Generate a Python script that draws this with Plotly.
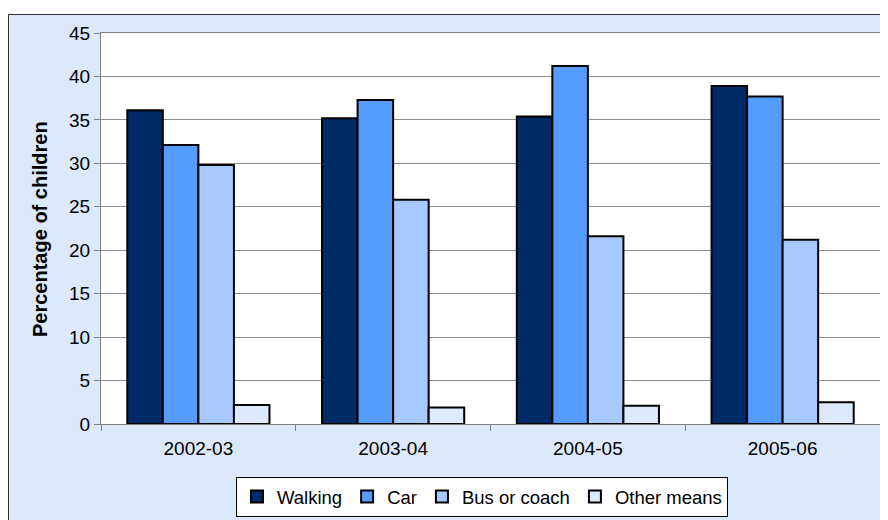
import plotly.graph_objects as go

years = ["2002-03", "2003-04", "2004-05", "2005-06"]
walking = [36.1, 35.2, 35.4, 38.9]
car = [32.1, 37.3, 41.2, 37.7]
bus = [29.8, 25.8, 21.6, 21.2]
other = [2.2, 1.9, 2.1, 2.5]

series = [
    ("Walking", walking, "#002b66"),
    ("Car", car, "#559cff"),
    ("Bus or coach", bus, "#a6caff"),
    ("Other means", other, "#dde9fc"),
]

BG = "#dce9fc"
fig = go.Figure()
for name, vals, col in series:
    fig.add_trace(go.Bar(x=years, y=vals, name=name,
                         marker=dict(color=col, line=dict(color="black", width=2))))

OFF = 8  # page body margin
W, H = 880, 512
L, R, T, B = 93, 8, 25, 96
pw, ph = W - L - R, H - T - B

def px(xpage):
    return (xpage - OFF - L) / pw

def py(ypage):
    return (H - B - (ypage - OFF)) / ph

fig.update_layout(
    width=W, height=H,
    margin=dict(l=L, r=R, t=T, b=B, autoexpand=False),
    paper_bgcolor=BG, plot_bgcolor="white",
    barmode="group", bargap=0.27, bargroupgap=0,
    font=dict(family="Liberation Sans, Arial", size=19, color="black"),
    showlegend=True,
    legend=dict(orientation="h", x=px(482), y=py(477), xanchor="center", yanchor="top",
                bgcolor="white", bordercolor="black", borderwidth=1,
                font=dict(size=18.5), itemwidth=30, traceorder="normal"),
    xaxis=dict(type="category", tickson="boundaries", ticks="outside", ticklen=6, tickcolor="#808080",
               showline=True, linecolor="#808080", linewidth=1, mirror=True, showgrid=False,
               tickfont=dict(size=19), ticklabelstandoff=7),
    yaxis=dict(range=[0, 45], dtick=5, ticks="outside", ticklen=6, tickcolor="#808080",
               showline=True, linecolor="#808080", linewidth=1, mirror=True,
               gridcolor="#8c8c8c", gridwidth=1, tickfont=dict(size=19), zeroline=False),
    shapes=[
        dict(type="rect", xref="paper", yref="paper", x0=px(-20), x1=px(W + 30), y0=py(14), y1=py(-20),
             fillcolor="white", line=dict(width=0), layer="above"),
        dict(type="rect", xref="paper", yref="paper", x0=px(8.5), x1=px(886.5), y0=py(540), y1=py(14.5),
             line=dict(color="#333333", width=1), layer="above"),
    ],
    annotations=[
        dict(text="<b>Percentage of children</b>", xref="paper", yref="paper", x=px(40), y=py(229),
             textangle=-90, showarrow=False, font=dict(size=20), xanchor="center", yanchor="middle"),
    ],
)
fig.write_html("out.html")
